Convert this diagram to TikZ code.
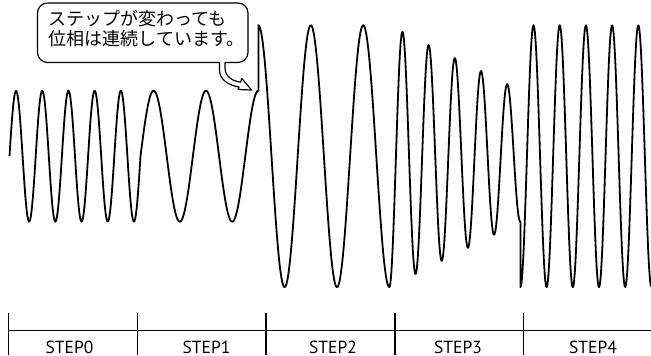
\documentclass[tikz,border=0pt]{standalone}
\usepackage{fontspec}
\newfontfamily\jpfont{Noto Sans CJK JP}
\newfontfamily\labfont{PT Sans}
\begin{document}
\begin{tikzpicture}[x=1pt,y=1pt,
  wave/.style={line width=1.8pt, line join=round},
  axis/.style={line width=1.3pt},
  steplabel/.style={font=\labfont\fontsize{17.5}{19}\selectfont, anchor=base, inner sep=0pt},
  msg/.style={font=\jpfont\fontsize{18}{20}\selectfont, anchor=base west, inner sep=0pt},
  callout/.style={line width=1.2pt, fill=white, line join=round}]
\useasboundingbox (0,0) rectangle (651,356);
\def\yc{199.8}
% waveform
\draw[wave]
  plot[domain=9.5:140.5, samples=170] (\x, {\yc+65.5*sin(((\x-9.5)/26.2)*360)})
  -- plot[domain=140.5:258.4, samples=130] (\x, {\yc+65.5*sin(((\x-140.5)/52.4)*360)})
  -- plot[domain=258.4:389.4, samples=150] (\x, {\yc+131*sin(((\x-140.5)/52.4)*360)})
  -- plot[domain=389.4:520.4, samples=200] (\x, {\yc-(131-0.5*(\x-389.4))*cos(((\x-389.4)/26.2)*360)})
  -- plot[domain=520.4:651, samples=200] (\x, {\yc-131*cos(((\x-520.4)/26.2)*360)});
% timeline
\coordinate (tl) at (8.3,25.3);
\coordinate (tr) at (651,25.3);
\draw[axis] (tl) -- (tr);
\foreach \xx in {8.3,137.3,266,395,523.3} \draw[axis] (\xx,43) -- (\xx,1);
\node[steplabel] (s0) at (69.5,2.3) {STEP0};
\node[steplabel] (s1) at (206.5,2.3) {STEP1};
\node[steplabel] (s2) at (333,2.3) {STEP2};
\node[steplabel] (s3) at (458,2.3) {STEP3};
\node[steplabel] (s4) at (593,2.3) {STEP4};
% callout
\draw[callout] (225,293.5) -- (238,293.5) arc[start angle=-90,end angle=0,radius=10]
  -- (248,343) arc[start angle=0,end angle=90,radius=10]
  -- (47.5,353) arc[start angle=90,end angle=180,radius=10]
  -- (37.5,303.5) arc[start angle=180,end angle=270,radius=10]
  -- (219.5,293.5) -- (219.5,286)
  .. controls (219.5,276) and (229,270.5) .. (239,269)
  -- (238,266.5) -- (251.5,266) -- (241.7,277.7) -- (240.6,273.8)
  .. controls (232,275) and (225,280) .. (225,288) -- cycle;
\node[msg] (m1) at (48.5,330) {ステップが変わっても};
\node[msg] (m2) at (48.5,310) {位相は連続しています。};
\end{tikzpicture}
\end{document}
